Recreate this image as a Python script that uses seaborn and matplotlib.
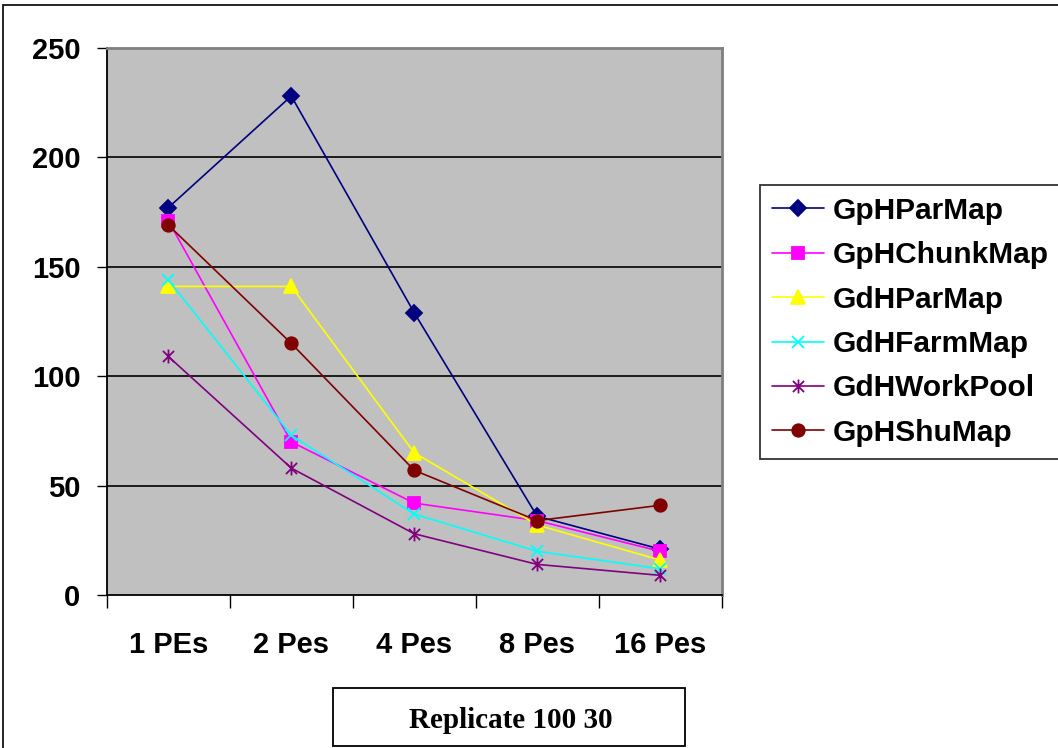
import matplotlib
matplotlib.use("Agg")
import matplotlib.pyplot as plt
import seaborn as sns
import pandas as pd
from matplotlib.path import Path
from matplotlib.patches import Rectangle

categories = ["1 PEs", "2 Pes", "4 Pes", "8 Pes", "16 Pes"]
gph_parmap = [177, 228, 129, 36, 21]
gph_chunkmap = [171, 70, 42, 34, 20]
gdh_parmap = [141, 141, 65, 32, 16]
gdh_farmmap = [144, 73, 37, 20, 12]
gdh_workpool = [109, 58, 28, 14, 9]
gph_shumap = [169, 115, 57, 34, 41]
y_ticks = [0, 50, 100, 150, 200, 250]
title = "Replicate 100 30"

series_names = ["GpHParMap", "GpHChunkMap", "GdHParMap", "GdHFarmMap", "GdHWorkPool", "GpHShuMap"]
series_values = [gph_parmap, gph_chunkmap, gdh_parmap, gdh_farmmap, gdh_workpool, gph_shumap]

asterisk = Path(
    [(0, -1), (0, 1), (-0.8, -0.8), (0.8, 0.8), (-0.8, 0.8), (0.8, -0.8)],
    [Path.MOVETO, Path.LINETO] * 3,
)
styles = {
    "GpHParMap": dict(color="#000080", marker="D", ms=8),
    "GpHChunkMap": dict(color="#FF00FF", marker="s", ms=9),
    "GdHParMap": dict(color="#FFFF00", marker="^", ms=10),
    "GdHFarmMap": dict(color="#00FFFF", marker="x", ms=9),
    "GdHWorkPool": dict(color="#800080", marker=asterisk, ms=10),
    "GpHShuMap": dict(color="#800000", marker="o", ms=9),
}

sns.set_style("white")
plt.rcParams["font.family"] = ["Liberation Sans", "DejaVu Sans"]
plt.rcParams["font.weight"] = "bold"
for k in ["text.color", "axes.labelcolor", "xtick.color", "ytick.color", "xtick.labelcolor", "ytick.labelcolor"]:
    plt.rcParams[k] = "black"

fig = plt.figure(figsize=(10.58, 7.48), dpi=100)
ax = fig.add_axes([0.101, 0.2045, 0.581, 0.7315])
ax.set_facecolor("#C0C0C0")

for name, vals in zip(series_names, series_values):
    st = styles[name]
    df = pd.DataFrame({"cat": categories, "val": vals})
    sns.lineplot(data=df, x="cat", y="val", ax=ax, color=st["color"], marker=st["marker"],
                 markersize=st["ms"], mec=st["color"], mfc=st["color"], mew=1.3,
                 linewidth=1.2, label=name, sort=False)

ax.set_xlim(-0.5, 4.5)
ax.set_ylim(0, 250)
ax.set_yticks(y_ticks)
ax.set_yticklabels([str(t) for t in y_ticks], fontsize=21, fontweight="bold", color="black")
ax.set_xticks(range(len(categories)))
ax.set_xticklabels(categories, fontsize=21, fontweight="bold", color="black")
ax.set_xticks([i - 0.5 for i in range(len(categories) + 1)], minor=True)
ax.tick_params(axis="x", which="major", length=0, pad=26)
ax.tick_params(axis="x", which="minor", length=9, width=1, color="black", direction="out", bottom=True)
ax.tick_params(axis="y", which="major", length=7, width=1, color="black", direction="out", left=True, pad=12)
ax.set_xlabel("")
ax.set_ylabel("")
for y in y_ticks[1:-1]:
    ax.axhline(y, color="black", lw=1.2, zorder=0.5)
ax.set_axisbelow(True)

for s in ["left", "bottom"]:
    ax.spines[s].set_color("black")
    ax.spines[s].set_linewidth(1.3)
for s in ["top", "right"]:
    ax.spines[s].set_color("#7F7F7F")
    ax.spines[s].set_linewidth(2)

leg = ax.legend(loc="upper left", bbox_to_anchor=(0.718, 0.753), bbox_transform=fig.transFigure,
                borderaxespad=0, frameon=True, fancybox=False, prop={"size": 21.5, "weight": "bold"},
                labelspacing=0.55, handlelength=1.75, handletextpad=0.3, borderpad=0.4)
leg.get_frame().set_edgecolor("black")
leg.get_frame().set_linewidth(1.3)
for t in leg.get_texts():
    t.set_color("black")

# outer chart border
fig.patches.append(Rectangle((0.003, -0.02), 1.2, 1.013, transform=fig.transFigure,
                             fill=False, ec="black", lw=1.2))
# title box
fig.patches.append(Rectangle((0.3147, 0.003), 0.3327, 0.0775, transform=fig.transFigure,
                             fill=True, fc="white", ec="black", lw=1.3))
fig.text(0.483, 0.037, title, ha="center", va="center", fontsize=21, fontweight="bold",
         color="black", family=["Liberation Serif", "DejaVu Serif"])

fig.savefig("out.png", dpi=100)
